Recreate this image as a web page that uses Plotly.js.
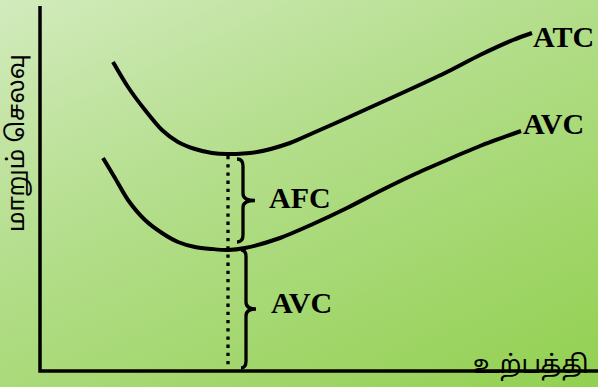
<!DOCTYPE html>
<html>
<head>
<meta charset="utf-8">
<script src="https://cdn.plot.ly/plotly-3.0.1.min.js"></script>
<style>
  html, body { margin: 0; padding: 0; }
  body { width: 598px; height: 387px; background: linear-gradient(155deg, #d2ebbd 0%, #b4de8c 40%, #92d050 100%); }
  #chart { width: 598px; height: 387px; }
</style>
</head>
<body>
<div id="chart"></div>
<script>
// Curve data (x = output, y = cost, screen-like units)
const atcX = [113, 128, 145, 162, 178, 195, 212, 228, 257, 290, 313, 347, 380, 413, 447, 480, 513, 532];
const atcY = [62, 87, 110, 130, 142, 149, 153, 154, 152, 143, 133, 118, 103, 88, 72, 55, 40, 33];
const avcX = [103, 115, 128, 145, 162, 178, 195, 212, 228, 245, 280, 313, 347, 380, 413, 447, 480, 521];
const avcY = [158, 178, 200, 220, 233, 242, 247, 249, 250, 248, 238, 224, 208, 191, 175, 160, 146, 131];

// Axis and reference positions
const axisX = [40, 40, 598];
const axisY = [6, 371, 371];
const qOutput = 228;     // output level of the dotted line
const floorY = 368;      // where the dotted line ends

const curveLabels = ['ATC', 'AVC'];
const gapLabels = ['AFC', 'AVC'];
const yTitle = 'மாறும் செலவு';
const xTitle = 'உற்பத்தி';

function interp(xs, ys, x) {
  for (let i = 0; i < xs.length - 1; i++) {
    if (x >= xs[i] && x <= xs[i + 1]) {
      const t = (x - xs[i]) / (xs[i + 1] - xs[i]);
      return ys[i] + t * (ys[i + 1] - ys[i]);
    }
  }
  return ys[ys.length - 1];
}
const atcAtQ = interp(atcX, atcY, qOutput);
const avcAtQ = interp(avcX, avcY, qOutput);

function brace(x, y0, y1, w) {
  const ym = (y0 + y1) / 2, h = w / 3, r = 7;
  return `M ${x} ${y0} Q ${x + h} ${y0} ${x + h} ${y0 + r} L ${x + h} ${ym - r} Q ${x + h} ${ym} ${x + w} ${ym} ` +
         `Q ${x + h} ${ym} ${x + h} ${ym + r} L ${x + h} ${y1 - r} Q ${x + h} ${y1} ${x} ${y1}`;
}

const black = '#000000';
const traces = [
  { x: axisX, y: axisY, mode: 'lines', line: { color: black, width: 3.5 }, hoverinfo: 'skip' },
  { x: atcX, y: atcY, mode: 'lines', line: { color: black, width: 4, shape: 'spline', smoothing: 0.8 }, hoverinfo: 'skip' },
  { x: avcX, y: avcY, mode: 'lines', line: { color: black, width: 4, shape: 'spline', smoothing: 0.8 }, hoverinfo: 'skip' },
  { x: [qOutput, qOutput], y: [atcAtQ + 2, floorY], mode: 'lines', line: { color: black, width: 3.3, dash: '3.3px,4.9px' }, hoverinfo: 'skip' }
];

const labFont = { family: 'Liberation Serif, Times New Roman, serif', size: 30, color: black, weight: 'bold' };
const layout = {
  width: 598, height: 387,
  margin: { l: 0, r: 0, t: 0, b: 0 },
  paper_bgcolor: 'rgba(0,0,0,0)', plot_bgcolor: 'rgba(0,0,0,0)',
  showlegend: false,
  xaxis: { range: [0, 598], visible: false, fixedrange: true },
  yaxis: { range: [387, 0], visible: false, fixedrange: true },
  shapes: [
    { type: 'path', path: brace(237, atcAtQ + 5, avcAtQ - 8, 18), line: { color: black, width: 3.3 } },
    { type: 'path', path: brace(241, avcAtQ, floorY, 15), line: { color: black, width: 3.3 } }
  ],
  annotations: [
    { x: 531, y: 36, text: '<b>' + curveLabels[0] + '</b>', showarrow: false, xanchor: 'left', yanchor: 'middle', font: labFont },
    { x: 521, y: 123, text: '<b>' + curveLabels[1] + '</b>', showarrow: false, xanchor: 'left', yanchor: 'middle', font: labFont },
    { x: 267, y: 197, text: '<b>' + gapLabels[0] + '</b>', showarrow: false, xanchor: 'left', yanchor: 'middle', font: labFont },
    { x: 269, y: 302, text: '<b>' + gapLabels[1] + '</b>', showarrow: false, xanchor: 'left', yanchor: 'middle', font: labFont },
    { x: 18, y: 143, text: yTitle, textangle: -90, showarrow: false, xanchor: 'center', yanchor: 'middle',
      font: { family: 'Noto Sans Tamil, Latha, Noto Sans, sans-serif', size: 24, color: black } },
    { x: 531, y: 366, text: xTitle, showarrow: false, xanchor: 'center', yanchor: 'middle',
      font: { family: 'Noto Sans Tamil, Latha, Noto Sans, sans-serif', size: 25, color: black } }
  ]
};

Plotly.newPlot('chart', traces, layout, { displayModeBar: false, staticPlot: true });
</script>
</body>
</html>
